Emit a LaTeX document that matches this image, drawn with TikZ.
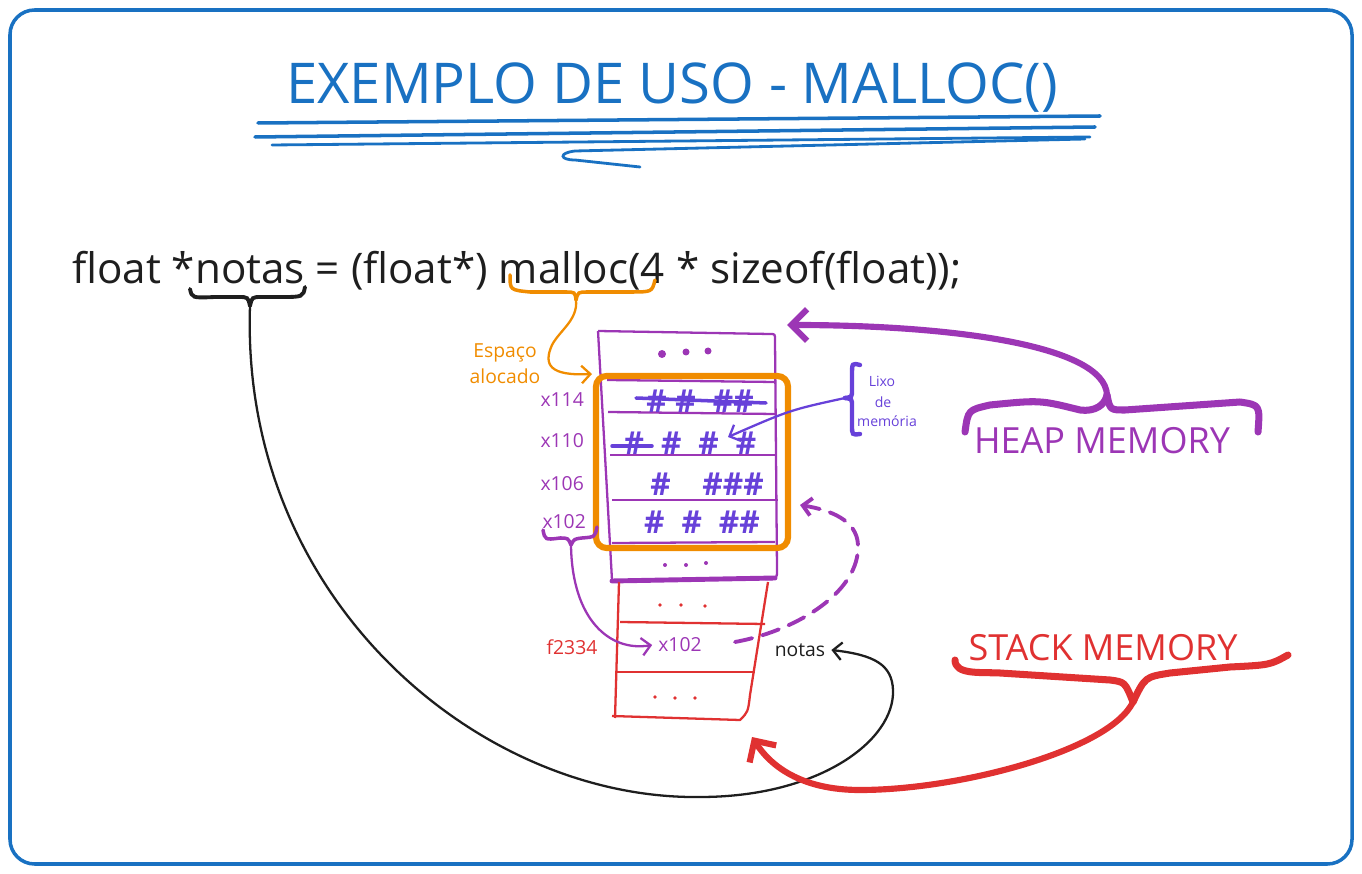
\documentclass[tikz,border=0pt]{standalone}
\usepackage{fontspec}
\setmainfont{Open Sans}
\usepackage{xcolor}
\usetikzlibrary{arrows.meta}
\definecolor{xblue}{HTML}{1971C2}
\definecolor{xpurple}{HTML}{9C36B5}
\definecolor{xorange}{HTML}{F08C00}
\definecolor{xred}{HTML}{E03131}
\definecolor{xindigo}{HTML}{6741D9}
\definecolor{xblack}{HTML}{1E1E1E}

\begin{document}
\begin{tikzpicture}[x=0.02cm,y=-0.02cm]
	\tikzstyle{heading}=[text=xblue, font=\fontsize{32}{34}\selectfont]
	\tikzstyle{codeline}=[text=xblack, font=\fontsize{24}{26}\selectfont]
	\tikzstyle{addr}=[text=xpurple, font=\fontsize{11}{13}\selectfont, anchor=east]
	\tikzstyle{hashes}=[text=xindigo, font=\bfseries\fontsize{18}{20}\selectfont]
	\tikzstyle{memlabel}=[font=\fontsize{20.5}{22}\selectfont]
	\tikzstyle{small}=[font=\fontsize{11}{13}\selectfont]
	\tikzstyle{tiny}=[text=xindigo, font=\fontsize{8}{9}\selectfont]
	\tikzstyle{heapline}=[xpurple, line width=1.3pt, line join=round]
	\tikzstyle{stackline}=[xred, line width=1.3pt, line join=round]
	\tikzstyle{thickbrace}=[line width=4pt, line cap=round, line join=round]
	\tikzset{edge/.style = {-{Straight Barb[length=5pt,width=10pt]}, line width=1.3pt, line cap=round}}
	\tikzset{bigedge/.style = {-{Straight Barb[length=9pt,width=18pt]}, line width=3.5pt, line cap=round}}

	\useasboundingbox (0,0) rectangle (1362,874);
	\draw[xblue, line width=2pt, rounded corners=14pt] (10,10) rectangle (1352,864);

	% title + underline
	\node[heading](title) at (672,88) {EXEMPLO DE USO - MALLOC()};
	\draw[xblue, line width=2pt, line cap=round] (258,123) -- (1100,116);
	\draw[xblue, line width=2pt, line cap=round] (255,137) -- (1095,127);
	\draw[xblue, line width=1.6pt, line cap=round] (272,145) -- (1090,137);
	\draw[xblue, line width=1.6pt, line cap=round] (1085,139) -- (575,151) .. controls (558,153) and (560,160) .. (575,160) -- (640,167);

	% code
	\node[codeline, anchor=base west](code) at (66,284) {float *notas = (float*) malloc(4 * sizeof(float));};

	% brace under notas + pointer path
	\coordinate (notastip) at (250,306);
	\draw[xblack, line width=2.2pt, line cap=round] (190,289) .. controls (192,298) .. (215,297) -- (238,297) .. controls (248,297) .. (notastip);
	\draw[xblack, line width=2.2pt, line cap=round] (305,287) .. controls (303,297) .. (280,297) -- (262,297) .. controls (252,297) .. (notastip);
	\node[small, text=xblack](notas) at (800,650) {notas};
	\draw[edge, xblack] (notastip) .. controls (240,600) and (480,800) .. (700,797) .. controls (820,797) and (895,740) .. (893,690) .. controls (892,665) and (875,655) .. (notas.east);

	% brace under malloc + allocated space
	\coordinate (malloctip) at (576,300);
	\draw[xorange, line width=2pt, line cap=round] (510,275) .. controls (510,290) .. (530,292) -- (565,292) .. controls (575,292) .. (malloctip);
	\draw[xorange, line width=2pt, line cap=round] (655,280) .. controls (652,292) .. (630,292) -- (588,292) .. controls (578,292) .. (malloctip);
	\node[small, text=xorange](espaco) at (505,353) {Espaço};
	\node[small, text=xorange](alocado) at (505,376) {alocado};
	\coordinate (alloctop) at (592,374);
	\draw[edge, xorange] (malloctip) .. controls (578,320) and (560,330) .. (552,345) .. controls (543,365) and (550,376) .. (alloctop);

	% heap box
	\draw[heapline] (598,331) -- (770,334) .. controls (775,334) .. (775,340) -- (777,570) .. controls (777,579) .. (765,579);
	\draw[heapline] (598,331) -- (612,580);
	\draw[xpurple, line width=2.8pt, line cap=round] (612,581) -- (775,578);
	\fill[xpurple] (662,354) circle (4) (686,352) circle (3.5) (708,351) circle (3.5);
	\draw[heapline] (607,380) -- (775,382);
	\draw[heapline] (608,412) -- (775,414);
	\draw[heapline] (610,455) -- (775,455);
	\draw[heapline] (612,500) -- (778,500);
	\draw[heapline] (612,543) -- (775,542);
	\fill[xpurple] (665,565) circle (2) (686,565) circle (2) (706,563) circle (2);

	% addresses
	\node[addr](a114) at (590,400) {x114};
	\node[addr](a110) at (590,441) {x110};
	\node[addr](a106) at (590,484) {x106};
	\node[addr](a102) at (592,522) {x102};

	% garbage
	\node[hashes](g1) at (700,401) {\#\;\#\; \#\#};
	\node[hashes](g2) at (690,443) {\#\; \#\; \#\; \#};
	\node[hashes](g3) at (707,484) {\#\quad\#\#\#};
	\node[hashes](g4) at (702,522) {\#\; \#\; \#\#};
	\draw[xindigo, line width=2pt, line cap=round] (636,398) -- (766,403);
	\draw[xindigo, line width=2pt, line cap=round] (612,446) -- (652,446);

	% allocated space
	\draw[xorange, line width=3.5pt, rounded corners=6pt] (596,376) rectangle (788,548);

	% memory garbage label
	\coordinate (lixotip) at (845,398);
	\draw[xindigo, line width=2.5pt, line cap=round] (860,365) .. controls (852,363) .. (852,375) -- (852,390) .. controls (852,397) .. (lixotip);
	\draw[xindigo, line width=2.5pt, line cap=round] (860,434) .. controls (852,435) .. (852,425) -- (852,406) .. controls (852,399) .. (lixotip);
	\node[tiny](lixo) at (882,381) {Lixo};
	\node[tiny](de) at (883,402) {de};
	\node[tiny](memoria) at (887,421) {memória};
	\coordinate (garbage) at (728,437);
	\draw[edge, xindigo] (lixotip) .. controls (790,410) .. (garbage);

	% stack box
	\draw[stackline] (619,582) -- (615,718);
	\draw[stackline] (768,582) -- (750,695) .. controls (748,712) .. (740,720) -- (612,716);
	\draw[stackline] (620,622) -- (765,624);
	\draw[stackline] (616,672) -- (755,672);
	\fill[xred] (660,605) circle (1.8) (681,605) circle (1.8) (705,606) circle (1.8);
	\fill[xred] (655,697) circle (1.8) (675,698) circle (1.8) (695,698) circle (1.8);
	\node[small, text=xpurple](ptr) at (680,645) {x102};
	\node[small, text=xred](f2334) at (572,647) {f2334};

	% pointer links
	\coordinate (a102tip) at (571,545);
	\draw[xpurple, line width=2pt, line cap=round] (543,530) .. controls (545,540) .. (560,538) .. controls (568,538) .. (a102tip);
	\draw[xpurple, line width=2pt, line cap=round] (597,527) .. controls (595,537) .. (582,538) .. controls (574,539) .. (a102tip);
	\draw[edge, xpurple] (a102tip) .. controls (572,620) and (610,652) .. (ptr.west);
	\coordinate (heapin) at (800,505);
	\draw[edge, xpurple, line width=2.2pt, dash pattern=on 10pt off 6pt] (735,642) .. controls (800,630) and (860,590) .. (858,545) .. controls (857,520) and (830,510) .. (heapin);

	% heap memory
	\node[memlabel, text=xpurple](heap) at (1102,441) {HEAP MEMORY};
	\coordinate (heaptip) at (1107,395);
	\coordinate (heaptop) at (787,325);
	\draw[xpurple, thickbrace] (965,432) .. controls (968,410) .. (990,405) .. controls (1040,400) .. (1080,410) .. controls (1095,412) and (1105,405) .. (heaptip);
	\draw[xpurple, thickbrace] (1258,432) .. controls (1260,405) .. (1240,402) -- (1125,410) .. controls (1110,410) .. (heaptip);
	\draw[bigedge, xpurple] (heaptip) .. controls (1105,345) and (950,325) .. (heaptop);

	% stack memory
	\node[memlabel, text=xred](stack) at (1103,648) {STACK MEMORY};
	\coordinate (stacktip) at (1133,702);
	\coordinate (stackbot) at (752,737);
	\draw[xred, thickbrace] (955,660) .. controls (955,675) and (980,672) .. (1000,673) -- (1110,680) .. controls (1125,682) .. (stacktip);
	\draw[xred, thickbrace] (1288,655) .. controls (1270,665) .. (1230,667) -- (1170,673) .. controls (1145,677) .. (stacktip);
	\draw[bigedge, xred] (stacktip) .. controls (1110,750) and (960,790) .. (860,790) .. controls (800,790) and (770,765) .. (stackbot);
\end{tikzpicture}
\end{document}
